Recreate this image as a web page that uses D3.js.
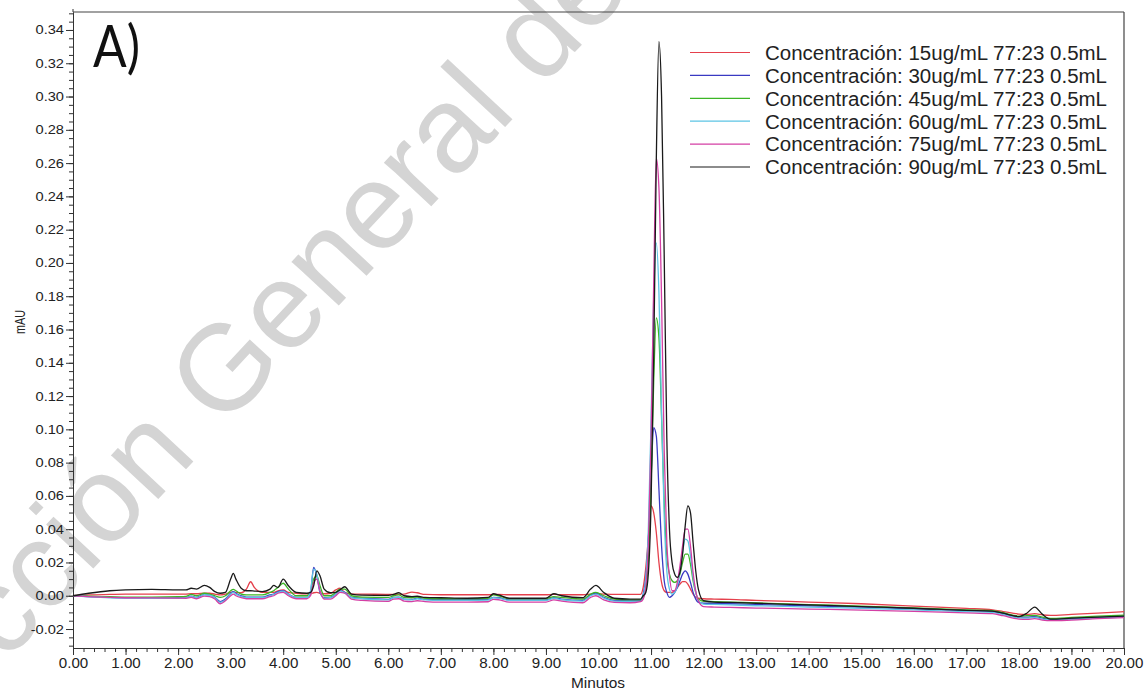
<!DOCTYPE html>
<html>
<head>
<meta charset="utf-8">
<script src="https://cdn.jsdelivr.net/npm/d3@7"></script>
<style>
  body { margin: 0; background: #fff; }
  svg { display: block; font-family: "Liberation Sans", Arial, sans-serif; }
</style>
</head>
<body>
<svg id="chart" width="1145" height="690"></svg>
<script>
// retention time grid (min)
const minutes = [
  0, 0.3, 0.7, 1.0, 1.5, 2.0, 2.15, 2.25, 2.35, 2.5,
  2.6, 2.7, 2.8, 2.9, 3.0, 3.05, 3.1, 3.2, 3.3, 3.38,
  3.45, 3.6, 3.75, 3.82, 3.9, 4.0, 4.1, 4.25, 4.45, 4.52,
  4.58, 4.64, 4.7, 4.78, 4.9, 5.0, 5.08, 5.17, 5.3, 5.5,
  6.0, 6.1, 6.2, 6.3, 6.45, 6.55, 6.7, 7.0, 7.5, 7.9,
  8.0, 8.1, 8.3, 9.0, 9.15, 9.3, 9.7, 9.85, 9.95, 10.1,
  10.3, 10.6,
  10.8, 10.85, 10.9, 10.95, 11.0, 11.05, 11.1, 11.15, 11.2, 11.25,
  11.3, 11.35, 11.4, 11.45, 11.5, 11.55, 11.6, 11.65, 11.7, 11.75,
  11.8, 11.85, 11.9, 12.0,
  12.2, 12.5, 13.0, 14.0, 15.0, 16.0, 17.0, 17.5, 17.7, 18.0,
  18.15, 18.3, 18.45, 18.6, 19.0, 19.5, 20.0
];

const c15 = [
  0.000, 0.0005, 0.0008, 0.0010, 0.0010, 0.0010, 0.0010, 0.0012, 0.0012, 0.0015,
  0.0015, 0.0010, 0.0005, 0.0010, 0.0020, 0.0022, 0.0020, 0.0018, 0.0040, 0.0084,
  0.0050, 0.0020, 0.0020, 0.0020, 0.0030, 0.0035, 0.0020, 0.0015, 0.0012, 0.0012,
  0.0018, 0.0020, 0.0015, 0.0012, 0.0015, 0.0035, 0.0045, 0.0020, 0.0010, 0.0010,
  0.0008, 0.0008, 0.0008, 0.0010, 0.0022, 0.0018, 0.0008, 0.0006, 0.0006, 0.0006,
  0.0008, 0.0008, 0.0006, 0.0006, 0.0008, 0.0006, 0.0006, 0.0010, 0.0012, 0.0010,
  0.0008, 0.0008,
  0.0008, 0.005, 0.017, 0.035, 0.054, 0.050, 0.038, 0.020, 0.008, 0.003,
  0.002, 0.002, 0.002, 0.003, 0.005, 0.007, 0.0085, 0.0085, 0.007, 0.004,
  0.001, -0.001, -0.0015, -0.0018,
  -0.0020, -0.0022, -0.0028, -0.0038, -0.0048, -0.0062, -0.0076, -0.0085, -0.0095, -0.0110,
  -0.0112, -0.0108, -0.0115, -0.0118, -0.0112, -0.0105, -0.0096
];

const c30 = [
  0.000, -0.0005, -0.0010, -0.0012, -0.0013, -0.0012, -0.0010, -0.0002, -0.0010, 0.0008,
  0.0005, -0.0010, -0.0035, -0.0020, 0.0015, 0.0025, 0.0015, 0.0000, -0.0008, -0.0008,
  -0.0008, -0.0008, 0.0005, 0.0010, 0.0025, 0.0030, 0.0010, -0.0010, -0.0010, 0.0020,
  0.0170, 0.0120, 0.0020, -0.0012, -0.0010, 0.0010, 0.0032, 0.0020, -0.0010, -0.0015,
  -0.0022, -0.0010, -0.0008, -0.0020, -0.0022, -0.0015, -0.0022, -0.0024, -0.0024, -0.0022,
  -0.0010, -0.0012, -0.0025, -0.0025, -0.0012, -0.0020, -0.0028, 0.0005, 0.0015, -0.0010,
  -0.0028, -0.0030,
  -0.003, 0.001, 0.011, 0.035, 0.071, 0.101, 0.096, 0.064, 0.030, 0.009,
  0.002, -0.001, 0.000, 0.002, 0.005, 0.009, 0.013, 0.015, 0.013, 0.008,
  0.002, -0.002, -0.004, -0.0045,
  -0.0045, -0.0048, -0.0052, -0.0060, -0.0068, -0.0078, -0.0090, -0.0095, -0.0108, -0.0128,
  -0.0128, -0.0125, -0.0135, -0.0142, -0.0138, -0.0130, -0.0124
];

const c45 = [
  0.000, -0.0003, -0.0006, -0.0008, -0.0008, -0.0006, -0.0004, 0.0008, 0.0000, 0.0015,
  0.0010, 0.0000, -0.0010, 0.0000, 0.0030, 0.0038, 0.0030, 0.0010, 0.0005, 0.0005,
  0.0005, 0.0005, 0.0020, 0.0030, 0.0050, 0.0075, 0.0040, 0.0000, 0.0000, 0.0020,
  0.0100, 0.0120, 0.0060, 0.0000, 0.0000, 0.0020, 0.0040, 0.0040, 0.0000, -0.0008,
  -0.0010, 0.0000, 0.0005, -0.0010, -0.0012, -0.0008, -0.0015, -0.0018, -0.0018, -0.0015,
  0.0005, 0.0000, -0.0018, -0.0018, -0.0005, -0.0010, -0.0020, 0.0010, 0.0020, 0.0000,
  -0.0020, -0.0025,
  -0.0025, -0.001, 0.004, 0.022, 0.066, 0.128, 0.167, 0.155, 0.107, 0.056,
  0.024, 0.013, 0.009, 0.008, 0.009, 0.013, 0.020, 0.025, 0.025, 0.019,
  0.009, 0.002, -0.002, -0.0033,
  -0.0035, -0.0038, -0.0043, -0.0053, -0.0062, -0.0073, -0.0085, -0.0089, -0.0102, -0.0122,
  -0.0120, -0.0118, -0.0128, -0.0136, -0.0130, -0.0122, -0.0116
];

const c60 = [
  0.000, -0.0006, -0.0012, -0.0014, -0.0015, -0.0014, -0.0012, -0.0004, -0.0012, 0.0006,
  0.0003, -0.0012, -0.0040, -0.0025, 0.0010, 0.0020, 0.0010, -0.0005, -0.0010, -0.0010,
  -0.0010, -0.0010, 0.0000, 0.0008, 0.0020, 0.0028, 0.0008, -0.0012, -0.0012, 0.0030,
  0.0160, 0.0130, 0.0030, -0.0015, -0.0012, 0.0008, 0.0030, 0.0018, -0.0012, -0.0018,
  -0.0025, -0.0012, -0.0010, -0.0022, -0.0025, -0.0018, -0.0025, -0.0028, -0.0028, -0.0026,
  -0.0012, -0.0014, -0.0028, -0.0028, -0.0015, -0.0024, -0.0032, 0.0000, 0.0010, -0.0014,
  -0.0032, -0.0034,
  -0.0034, 0.000, 0.010, 0.042, 0.105, 0.178, 0.212, 0.182, 0.110, 0.048,
  0.015, 0.004, 0.001, 0.002, 0.006, 0.015, 0.026, 0.034, 0.033, 0.024,
  0.011, 0.002, -0.003, -0.005,
  -0.0052, -0.0055, -0.0060, -0.0068, -0.0075, -0.0085, -0.0096, -0.0100, -0.0113, -0.0133,
  -0.0135, -0.0130, -0.0140, -0.0146, -0.0142, -0.0134, -0.0128
];

const c75 = [
  0.000, -0.0005, -0.0010, -0.0012, -0.0013, -0.0014, -0.0015, -0.0010, -0.0018, -0.0002,
  -0.0005, -0.0020, -0.0048, -0.0030, 0.0000, 0.0010, 0.0000, -0.0012, -0.0018, -0.0018,
  -0.0018, -0.0018, -0.0005, 0.0000, 0.0015, 0.0020, 0.0000, -0.0018, -0.0018, 0.0000,
  0.0080, 0.0100, 0.0030, -0.0020, -0.0020, 0.0000, 0.0020, 0.0015, -0.0020, -0.0028,
  -0.0034, -0.0020, -0.0018, -0.0032, -0.0035, -0.0030, -0.0035, -0.0038, -0.0038, -0.0036,
  -0.0022, -0.0024, -0.0038, -0.0038, -0.0025, -0.0032, -0.0042, -0.0010, 0.0000, -0.0025,
  -0.0040, -0.0042,
  -0.0035, -0.002, 0.005, 0.032, 0.095, 0.187, 0.263, 0.245, 0.178, 0.088,
  0.032, 0.012, 0.003, 0.003, 0.008, 0.018, 0.030, 0.040, 0.040, 0.030,
  0.014, 0.003, -0.003, -0.0065,
  -0.0068, -0.0070, -0.0074, -0.0080, -0.0086, -0.0094, -0.0103, -0.0108, -0.0120, -0.0140,
  -0.0142, -0.0138, -0.0146, -0.0150, -0.0146, -0.0138, -0.0132
];

const c90 = [
  0.000, 0.0015, 0.0030, 0.0035, 0.0038, 0.0035, 0.0035, 0.0045, 0.0040, 0.0062,
  0.0050, 0.0025, 0.0015, 0.0020, 0.0100, 0.0134, 0.0100, 0.0045, 0.0030, 0.0030,
  0.0028, 0.0025, 0.0040, 0.0062, 0.0050, 0.0100, 0.0060, 0.0020, 0.0015, 0.0020,
  0.0060, 0.0150, 0.0120, 0.0040, 0.0018, 0.0020, 0.0035, 0.0054, 0.0010, 0.0004,
  0.0002, 0.0008, 0.0018, 0.0000, -0.0005, -0.0003, -0.0010, -0.0012, -0.0015, -0.0010,
  0.0012, 0.0005, -0.0015, -0.0015, 0.0012, 0.0000, -0.0012, 0.0040, 0.0062, 0.0020,
  -0.0015, -0.0020,
  -0.002, 0.000, 0.002, 0.014, 0.055, 0.142, 0.262, 0.333, 0.300, 0.205,
  0.095, 0.040, 0.020, 0.013, 0.011, 0.014, 0.025, 0.042, 0.054, 0.050,
  0.032, 0.015, 0.004, -0.003,
  -0.0038, -0.0040, -0.0045, -0.0055, -0.0065, -0.0075, -0.0088, -0.0092, -0.0105, -0.0125,
  -0.0105, -0.0068, -0.0112, -0.0140, -0.0135, -0.0128, -0.0122
];

const seriesLabels = [
  "Concentración: 15ug/mL 77:23 0.5mL",
  "Concentración: 30ug/mL 77:23 0.5mL",
  "Concentración: 45ug/mL 77:23 0.5mL",
  "Concentración: 60ug/mL 77:23 0.5mL",
  "Concentración: 75ug/mL 77:23 0.5mL",
  "Concentración: 90ug/mL 77:23 0.5mL"
];
const seriesValues = [c15, c30, c45, c60, c75, c90];
const seriesColors = ["#e5404c", "#3a3ac2", "#3cb625", "#5cc4e4", "#d43fa4", "#1a1a1a"];

const xTickValues = [0, 1, 2, 3, 4, 5, 6, 7, 8, 9, 10, 11, 12, 13, 14, 15, 16, 17, 18, 19, 20];
const yTickValues = [-0.02, 0.00, 0.02, 0.04, 0.06, 0.08, 0.10, 0.12, 0.14, 0.16, 0.18,
                     0.20, 0.22, 0.24, 0.26, 0.28, 0.30, 0.32, 0.34];

const svg = d3.select("#chart");
const pLeft = 73, pRight = 1124, pTop = 12, pBottom = 648;

const x = d3.scaleLinear().domain([0, 20]).range([pLeft, pRight]);
const y = d3.scaleLinear().domain([-0.0314, 0.3508]).range([pBottom, pTop]);

// stretch text horizontally like the source image
function stretch(sel, k) {
  sel.each(function () {
    const w = this.getComputedTextLength();
    d3.select(this).attr("textLength", w * k).attr("lengthAdjust", "spacingAndGlyphs");
  });
}

// watermark (behind everything)
const wm = svg.append("text")
  .attr("font-size", 122)
  .attr("fill", "#d4d4d4")
  .text("Dirección General de Bibliotecas");
const wmNode = wm.node();
const offG = wmNode.getSubStringLength(0, 10);
const wG = wmNode.getSubStringLength(10, 7);
wm.attr("x", -(offG + wG / 2))
  .attr("transform", "translate(370,272) rotate(-47)");

// axes
const fmt = d => d.toFixed(2);

const gx = svg.append("g").attr("transform", `translate(0,${pBottom})`);
gx.call(d3.axisBottom(x).tickValues(d3.range(0, 20.01, 0.2)).tickSize(4).tickFormat("").tickSizeOuter(0));
const gx2 = svg.append("g").attr("transform", `translate(0,${pBottom})`);
gx2.call(d3.axisBottom(x).tickValues(xTickValues).tickSize(7).tickPadding(3).tickFormat(fmt).tickSizeOuter(0));
gx2.selectAll("text").attr("font-size", 14).attr("fill", "#222");
stretch(gx2.selectAll("text"), 1.08);

const gy = svg.append("g").attr("transform", `translate(${pLeft},0)`);
gy.call(d3.axisLeft(y).tickValues(d3.range(-0.03, 0.3501, 0.005)).tickSize(4).tickFormat("").tickSizeOuter(0));
const gy2 = svg.append("g").attr("transform", `translate(${pLeft},0)`);
gy2.call(d3.axisLeft(y).tickValues(yTickValues).tickSize(7).tickPadding(2).tickFormat(fmt).tickSizeOuter(0));
gy2.selectAll("text").attr("font-size", 12.5).attr("fill", "#222");
stretch(gy2.selectAll("text"), 1.17);

svg.selectAll(".domain, .tick line").attr("stroke", "#333");

// frame top / right
svg.append("line").attr("x1", pLeft).attr("x2", pRight).attr("y1", pTop).attr("y2", pTop)
  .attr("stroke", "#444").attr("stroke-width", 1.2);
svg.append("line").attr("x1", pRight).attr("x2", pRight).attr("y1", pTop).attr("y2", pBottom)
  .attr("stroke", "#444").attr("stroke-width", 1.2);
svg.append("line").attr("x1", pLeft).attr("x2", pLeft).attr("y1", 9).attr("y2", pTop)
  .attr("stroke", "#333");

// traces
const line = d3.line()
  .x((d, i) => x(minutes[i]))
  .y(d => y(d))
  .curve(d3.curveMonotoneX);

svg.append("g")
  .selectAll("path")
  .data(seriesValues)
  .join("path")
  .attr("d", line)
  .attr("fill", "none")
  .attr("stroke", (d, i) => seriesColors[i])
  .attr("stroke-width", 1.3)
  .attr("stroke-linejoin", "round");

// legend
const lg = svg.append("g");
seriesLabels.forEach((lab, i) => {
  const ly = 52.5 + i * 22.9;
  lg.append("line").attr("x1", 690).attr("x2", 750).attr("y1", ly).attr("y2", ly)
    .attr("stroke", seriesColors[i]).attr("stroke-width", 1.2);
  lg.append("text").attr("x", 765).attr("y", ly + 7.3)
    .attr("font-size", 20).attr("fill", "#222")
    .attr("textLength", 342).attr("lengthAdjust", "spacingAndGlyphs")
    .text(lab);
});

// panel letter
const letter = svg.append("text").attr("x", 93).attr("y", 67)
  .attr("font-family", "Lato, 'Open Sans', sans-serif")
  .attr("font-size", 58).attr("fill", "#111").text("A)");
letter.attr("textLength", 47).attr("lengthAdjust", "spacingAndGlyphs");

// axis titles
const xt = svg.append("text").attr("x", 598).attr("y", 688)
  .attr("text-anchor", "middle").attr("font-size", 14).attr("fill", "#222").text("Minutos");
stretch(xt, 1.1);
const yt = svg.append("text").attr("transform", "translate(25,322) rotate(-90)")
  .attr("text-anchor", "middle").attr("font-size", 14).attr("fill", "#222").text("mAU");
yt.attr("textLength", 24).attr("lengthAdjust", "spacingAndGlyphs");
</script>
</body>
</html>
